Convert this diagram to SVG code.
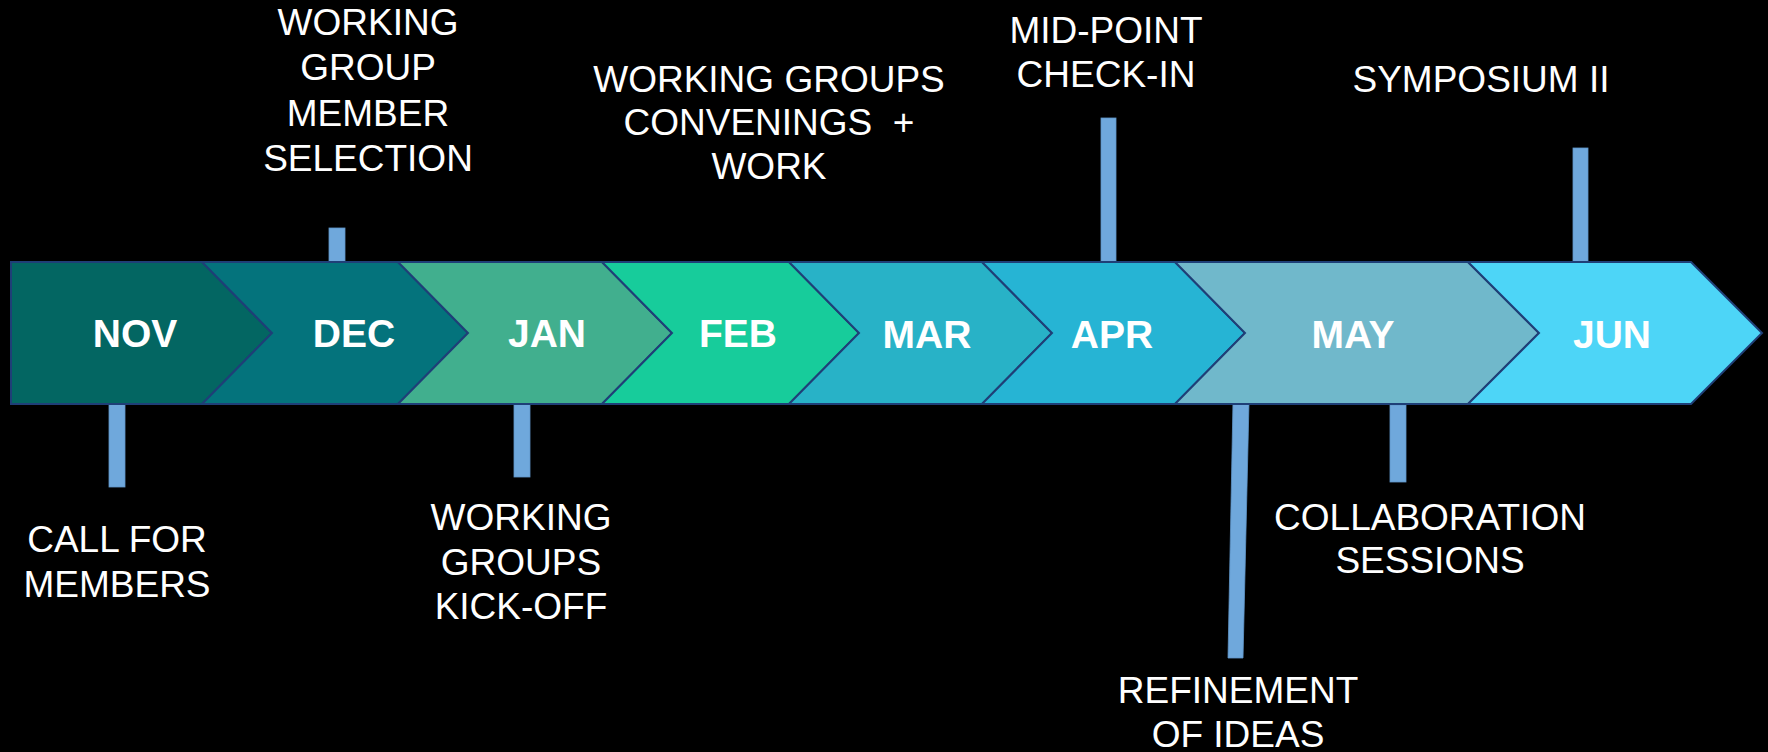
<svg xmlns="http://www.w3.org/2000/svg" width="1768" height="752" viewBox="0 0 1768 752">
<style>
.bg{fill:#000}
.chev{stroke:#1F3F77;stroke-width:2;stroke-linejoin:miter}
.mon{font-family:"Liberation Sans",Arial,sans-serif;font-weight:bold;font-size:39px;fill:#fff;text-anchor:middle}
.lbl{font-family:"Liberation Sans",Arial,sans-serif;font-size:37px;fill:#fff;text-anchor:middle}
.bar{fill:#6FA8DC;stroke:#5F95C9;stroke-width:0.8}
</style>
<rect class="bg" x="0" y="0" width="1768" height="752"/>
<g id="connectors">
<rect class="bar" x="109" y="404" width="16" height="83"/>
<rect class="bar" x="329" y="228" width="16" height="34"/>
<rect class="bar" x="514" y="404" width="16" height="73"/>
<rect class="bar" x="1101" y="118" width="15" height="144"/>
<polygon class="bar" points="1233,402 1249,402 1243,658 1228,658"/>
<rect class="bar" x="1390" y="405" width="16" height="77"/>
<rect class="bar" x="1573" y="148" width="15" height="114"/>
</g>
<g id="nov"><path class="chev" fill="#036662" d="M11,262 L202,262 L272,333 L202,404 L11,404 Z"/><text class="mon" x="135" y="347">NOV</text></g>
<g id="dec"><path class="chev" fill="#04737C" d="M202,262 L398,262 L468,333 L398,404 L202,404 L272,333 Z"/><text class="mon" x="354" y="347">DEC</text></g>
<g id="jan"><path class="chev" fill="#41AF8E" d="M398,262 L602,262 L672,333 L602,404 L398,404 L468,333 Z"/><text class="mon" x="547" y="347">JAN</text></g>
<g id="feb"><path class="chev" fill="#17CC9B" d="M602,262 L789,262 L859,333 L789,404 L602,404 L672,333 Z"/><text class="mon" x="738" y="347">FEB</text></g>
<g id="mar"><path class="chev" fill="#28B2C7" d="M789,262 L982,262 L1052,333 L982,404 L789,404 L859,333 Z"/><text class="mon" x="927" y="348">MAR</text></g>
<g id="apr"><path class="chev" fill="#26B4D4" d="M982,262 L1175,262 L1245,333 L1175,404 L982,404 L1052,333 Z"/><text class="mon" x="1112" y="348">APR</text></g>
<g id="may"><path class="chev" fill="#70B8CB" d="M1175,262 L1468,262 L1539,333 L1468,404 L1175,404 L1245,333 Z"/><text class="mon" x="1353" y="348">MAY</text></g>
<g id="jun"><path class="chev" fill="#4DD5F7" d="M1468,262 L1691,262 L1762,333 L1691,404 L1468,404 L1539,333 Z"/><text class="mon" x="1612" y="348">JUN</text></g>
<g id="label-member-selection"><text class="lbl"><tspan x="368" y="35">WORKING</tspan><tspan x="368" y="80">GROUP</tspan><tspan x="368" y="126">MEMBER</tspan><tspan x="368" y="171">SELECTION</tspan></text></g>
<g id="label-convenings"><text class="lbl" xml:space="preserve"><tspan x="769" y="92">WORKING GROUPS</tspan><tspan x="769" y="135">CONVENINGS  +</tspan><tspan x="769" y="179">WORK</tspan></text></g>
<g id="label-midpoint"><text class="lbl"><tspan x="1106" y="43">MID-POINT</tspan><tspan x="1106" y="87">CHECK-IN</tspan></text></g>
<g id="label-symposium"><text class="lbl" x="1481" y="92">SYMPOSIUM II</text></g>
<g id="label-call"><text class="lbl"><tspan x="117" y="552">CALL FOR</tspan><tspan x="117" y="597">MEMBERS</tspan></text></g>
<g id="label-kickoff"><text class="lbl"><tspan x="521" y="530">WORKING</tspan><tspan x="521" y="575">GROUPS</tspan><tspan x="521" y="619">KICK-OFF</tspan></text></g>
<g id="label-collab"><text class="lbl"><tspan x="1430" y="530">COLLABORATION</tspan><tspan x="1430" y="573">SESSIONS</tspan></text></g>
<g id="label-refinement"><text class="lbl"><tspan x="1238" y="703">REFINEMENT</tspan><tspan x="1238" y="747">OF IDEAS</tspan></text></g>
</svg>
